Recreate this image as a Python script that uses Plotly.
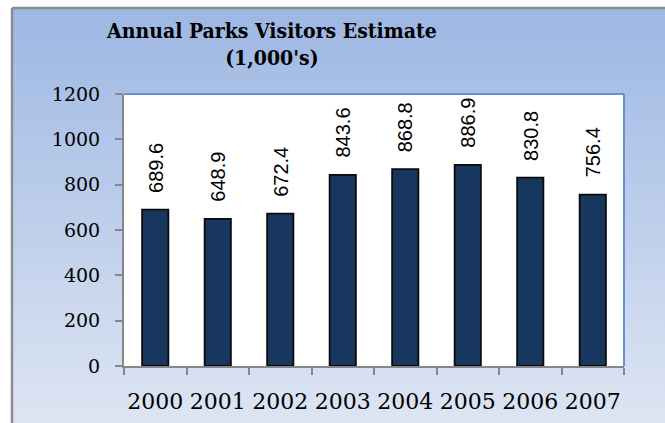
import plotly.graph_objects as go

years = ["2000", "2001", "2002", "2003", "2004", "2005", "2006", "2007"]
visitors = [689.6, 648.9, 672.4, 843.6, 868.8, 886.9, 830.8, 756.4]
y_ticks = [0, 200, 400, 600, 800, 1000, 1200]

W, H = 665, 423
# plot area in pixels
PL, PR, PT, PB = 124, 624, 94, 366

def px(x):
    return x / W

def py(y):
    return 1 - y / H

title_font = "DejaVu Serif Condensed, DejaVu Serif, serif"
tick_font = "DejaVu Serif, serif"

fig = go.Figure()
fig.add_trace(go.Bar(
    x=years, y=visitors,
    marker=dict(color="#17375E", line=dict(color="#0a0a0a", width=1.8)),
    width=0.42,
    hoverinfo="skip",
))

for i, v in enumerate(visitors):
    fig.add_annotation(
        x=i, y=v, xref="x", yref="y", text=f"{v:.1f}",
        showarrow=False, textangle=-90, yanchor="bottom", xanchor="center",
        yshift=15, font=dict(family="Liberation Sans, Arial, sans-serif", size=20, color="#000"),
    )

gradient_svg = (
    "data:image/svg+xml;utf8,"
    "<svg xmlns='http://www.w3.org/2000/svg' width='100' height='100' "
    "viewBox='0 0 100 100' preserveAspectRatio='none'>"
    "<defs><linearGradient id='g' x1='0' y1='0' x2='0' y2='1'>"
    "<stop offset='0' stop-color='%239DB7E3'/>"
    "<stop offset='1' stop-color='%23DDE5F3'/>"
    "</linearGradient></defs>"
    "<rect width='100' height='100' fill='url(%23g)'/></svg>"
)
fig.add_layout_image(
    source=gradient_svg, xref="paper", yref="paper",
    x=px(12), y=py(8), sizex=1 - px(12), sizey=py(8),
    xanchor="left", yanchor="top", sizing="stretch", layer="below",
)

shapes = [
    # plot area fill
    dict(type="rect", xref="paper", yref="paper", x0=px(PL), x1=px(PR), y0=py(PB), y1=py(PT),
         fillcolor="white", line=dict(width=0), layer="below"),
    # blue frame on top and right of plot area
    dict(type="line", xref="paper", yref="paper", x0=px(PL), x1=px(PR), y0=py(PT), y1=py(PT),
         line=dict(color="#6A90C9", width=2)),
    dict(type="line", xref="paper", yref="paper", x0=px(PR), x1=px(PR), y0=py(PB), y1=py(PT),
         line=dict(color="#6A90C9", width=2)),
    # outer chart border
    dict(type="line", xref="paper", yref="paper", x0=px(12), x1=px(12), y0=0, y1=py(8),
         line=dict(color="#8C8C8C", width=2.5)),
    dict(type="line", xref="paper", yref="paper", x0=px(12), x1=1, y0=py(8), y1=py(8),
         line=dict(color="#8C8C8C", width=2.5)),
]

fig.add_annotation(
    x=px(271), y=py(44), xref="paper", yref="paper", showarrow=False,
    text="<b>Annual Parks Visitors Estimate<br>(1,000's)</b>",
    font=dict(family=title_font, size=21, color="#000"), xanchor="center", yanchor="middle",
)

fig.update_layout(
    width=W, height=H,
    margin=dict(l=0, r=0, t=0, b=0, autoexpand=False),
    paper_bgcolor="white", plot_bgcolor="rgba(0,0,0,0)",
    showlegend=False, shapes=shapes,
    bargap=0.58,
    xaxis=dict(
        domain=[px(PL), px(PR)], type="category", range=[-0.5, 7.5], automargin=False,
        showline=True, linecolor="#878787", linewidth=2,
        ticks="outside", ticklen=7, tickcolor="#878787", tickwidth=2,
        tickson="boundaries", showgrid=False, zeroline=False,
        tickfont=dict(family=tick_font, size=22, color="#000"),
        ticklabelstandoff=15, tickangle=0,
    ),
    yaxis=dict(
        domain=[py(PB), py(PT)], range=[0, 1200], automargin=False,
        tickvals=y_ticks, ticktext=[str(t) for t in y_ticks],
        showline=True, linecolor="#878787", linewidth=2,
        ticks="outside", ticklen=7, tickcolor="#878787", tickwidth=2,
        showgrid=False, zeroline=False,
        tickfont=dict(family=tick_font, size=19, color="#000"),
        ticklabelstandoff=11,
    ),
)

fig.write_html("out.html")
